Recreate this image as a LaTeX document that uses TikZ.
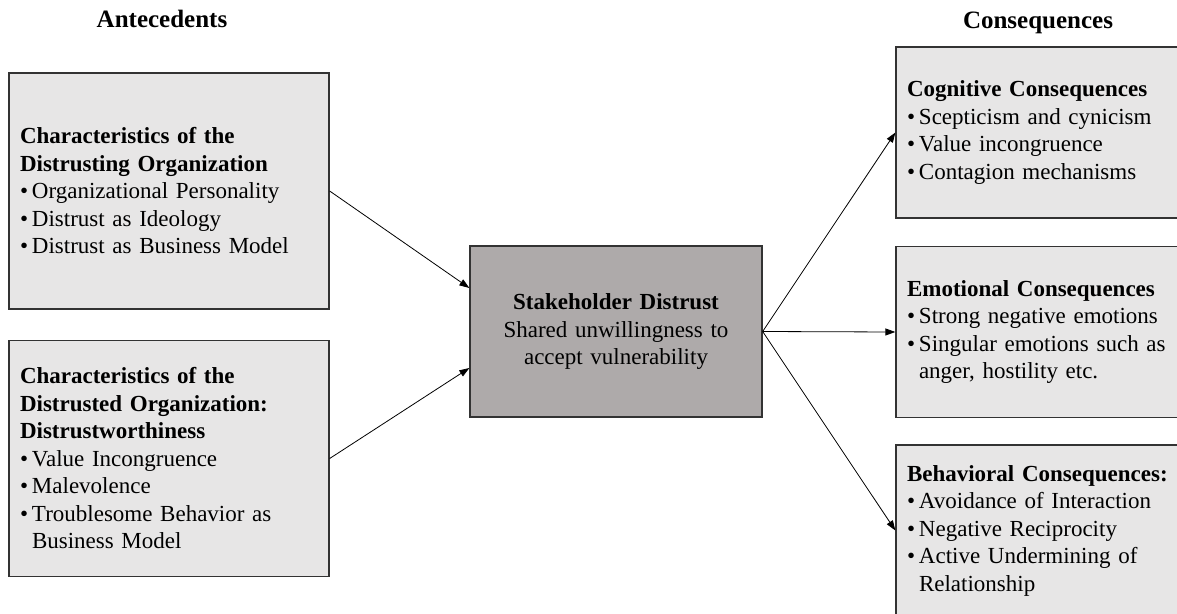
\documentclass[tikz,border=0pt]{standalone}
\usepackage{fontspec}
\setmainfont{Liberation Serif}
\usetikzlibrary{arrows.meta,calc}

\newlength{\du}
\setlength{\du}{1pt}

% bullet and hanging indent for the lists
\newcommand{\bul}{\makebox[12\du][l]{\textbullet}}
\newcommand{\hang}{\hspace*{12\du}}

\definecolor{boxlight}{HTML}{E7E6E6}
\definecolor{boxdark}{HTML}{AEAAAA}

\tikzset{
  factor/.style={draw=black!80, line width=1.3\du, fill=boxlight, align=left,
    inner xsep=11\du, inner ysep=0\du, font=\fontsize{23}{27.5}\selectfont},
  antebox/.style={factor, text width=298\du, minimum height=236\du},
  consbox/.style={factor, text width=268\du, minimum height=171\du},
  corebox/.style={factor, fill=boxdark, align=center, text width=270\du,
    minimum height=171\du},
  header/.style={font=\fontsize{25}{30}\selectfont\bfseries, anchor=base},
  link/.style={line width=0.8\du, -{Triangle[length=10pt,width=7pt]}}
}

\begin{document}
\begin{tikzpicture}[x=\du,y=-\du]
\useasboundingbox (0,0) rectangle (1177,613);
\clip (0,0) rectangle (1177,613);

% headers
\node[header] (ante) at (162,27.5) {Antecedents};
\node[header] (cons) at (1038,28) {Consequences};

% antecedents
\node[antebox] (orgA) at (169,191) {\textbf{Characteristics of the}\\
  \textbf{Distrusting Organization}\\
  \bul Organizational Personality\\
  \bul Distrust as Ideology\\
  \bul Distrust as Business Model};
\node[antebox] (orgB) at (169,458.5) {\textbf{Characteristics of the}\\
  \textbf{Distrusted Organization:}\\
  \textbf{Distrustworthiness}\\
  \bul Value Incongruence\\
  \bul Malevolence\\
  \bul Troublesome Behavior as\\
  \hang Business Model};

% core construct
\node[corebox] (sd) at (616,331.5) {\textbf{Stakeholder Distrust}\\
  Shared unwillingness to\\
  accept vulnerability};

% consequences
\node[consbox] (cog) at (1041,132.5) {\textbf{Cognitive Consequences}\\
  \bul Scepticism and cynicism\\
  \bul Value incongruence\\
  \bul Contagion mechanisms};
\node[consbox] (emo) at (1041,332) {\textbf{Emotional Consequences}\\
  \bul Strong negative emotions\\
  \bul Singular emotions such as\\
  \hang anger, hostility etc.};
\node[consbox] (beh) at (1041,530.5) {\textbf{Behavioral Consequences:}\\
  \bul Avoidance of Interaction\\
  \bul Negative Reciprocity\\
  \bul Active Undermining of\\
  \hang Relationship};

% arrows
\draw[link] (orgA.east) -- ($(sd.west)+(0,-43.5)$);
\draw[link] (orgB.east) -- ($(sd.west)+(0,36.5)$);
\draw[link] (sd.east) -- (cog.west);
\draw[link] (sd.east) -- (emo.west);
\draw[link] (sd.east) -- (beh.west);
\end{tikzpicture}
\end{document}
